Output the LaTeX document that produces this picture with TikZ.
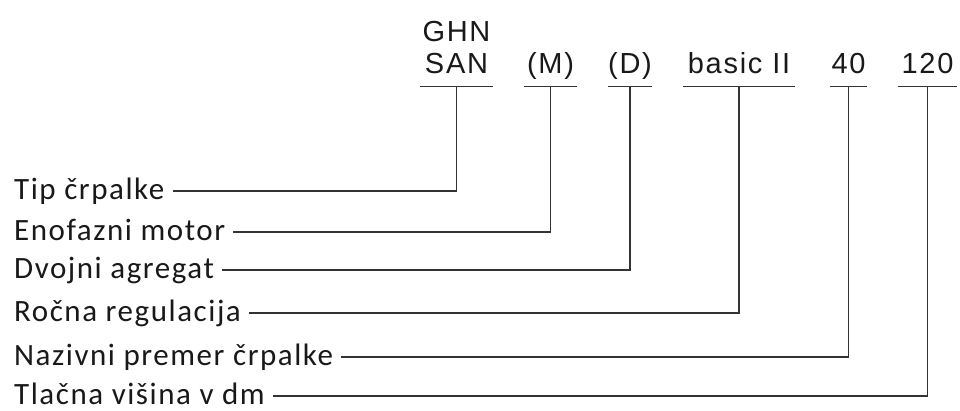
\documentclass[tikz,border=0pt]{standalone}
\usepackage{fontspec}
\usepackage{tikz}
\usetikzlibrary{positioning}
\newfontfamily\opisfont[LetterSpace=5]{Carlito}
\newfontfamily\oznakafont[LetterSpace=6]{Liberation Sans}
\tikzstyle{opis1} = [inner xsep=8pt, inner ysep=0pt, text height=21pt, text depth=5pt, anchor=west, text=black!90, font=\opisfont\fontsize{31}{31}\selectfont]
\tikzstyle{oznaka1} = [inner sep=0pt, text depth=13pt, anchor=base, text=black!90, font=\oznakafont\fontsize{29}{29}\selectfont]
\tikzstyle{line1} = [line width=1.4, draw=black!80]
\begin{document}
\begin{tikzpicture}[x=1pt, y=-1pt]
			\useasboundingbox (0,0) rectangle (960,410);
			\node[oznaka1, minimum width=73pt](san) at (456.5,73){SAN};
			\node[oznaka1](ghn) at (456.5,41){GHN};
			\node[oznaka1, minimum width=53pt](m) at (550.5,73){(M)};
			\node[oznaka1, minimum width=40pt](d) at (630,73){(D)};
			\node[oznaka1, minimum width=112pt](basic) at (739,73){basic II};
			\node[oznaka1, minimum width=37pt](dn) at (848.5,73){40};
			\node[oznaka1, minimum width=59pt](h) at (927.5,73){120};
			\node[opis1](tip) at (6,191){Tip črpalke};
			\node[opis1](motor) at (6,232){Enofazni motor};
			\node[opis1](agregat) at (6,270){Dvojni agregat};
			\node[opis1](regulacija) at (6,313){Ročna regulacija};
			\node[opis1](premer) at (6,357){Nazivni premer črpalke};
			\node[opis1](visina) at (6,396){Tlačna višina v dm};
			\foreach \n in {san,m,d,basic,dn,h}
				\draw[line1] (\n.south west) -- (\n.south east);
			\draw[line1] (tip.east) -| (san.south);
			\draw[line1] (motor.east) -| (m.south);
			\draw[line1] (agregat.east) -| (d.south);
			\draw[line1] (regulacija.east) -| (basic.south);
			\draw[line1] (premer.east) -| (dn.south);
			\draw[line1] (visina.east) -| (h.south);
		\end{tikzpicture}
\end{document}
